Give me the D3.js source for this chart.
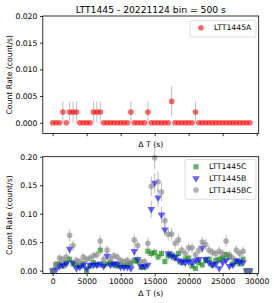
<!DOCTYPE html>
<html>
<head>
<meta charset="utf-8">
<script src="https://cdn.jsdelivr.net/npm/d3@7"></script>
<style>
body { margin: 0; background: #fff; }
svg { display: block; }
text { font-family: "DejaVu Sans", sans-serif; }
</style>
</head>
<body>
<svg width="274" height="303"></svg>
<script>
// 500 s bins, rates in count/s
var BIN = 500;
var times = [0, 500, 1000, 1500, 2000, 2500, 3000, 3500, 4000, 4500,
  5000, 5500, 6000, 6500, 7000, 7500, 8000, 8500, 9000, 9500,
  10000, 10500, 11000, 11500, 12000, 12500, 13000, 13500, 14000, 14500,
  15000, 15500, 16000, 16500, 17000, 17500, 18000, 18500, 19000, 19500,
  20000, 20500, 21000, 21500, 22000, 22500, 23000, 23500, 24000, 24500,
  25000, 25500, 26000, 26500, 27000, 27500, 28000, 28500, 29000];

var rateA = [0, 0, 0, 0.002, 0, 0.002, 0.002, 0.002, 0, 0,
  0, 0, 0.002, 0.002, 0.002, 0, 0, 0, 0, 0,
  0, 0, 0, 0.002, 0, 0, 0, 0, 0.002, 0,
  0, 0, 0, 0, 0, 0.004, 0, 0, 0, 0,
  0, 0, 0.002, 0, 0, 0, 0, 0, 0, 0,
  0, 0, 0, 0, 0, 0, 0, 0, 0];

var rateC = [0, 0.010, 0.012, 0.008, 0.014, 0.020, 0.012, 0.010, 0.008, 0.012,
  0, 0.008, 0.014, 0.010, 0.036, 0.010, 0.012, 0.014, 0.010, 0.008,
  0.010, 0.008, 0.010, 0.012, 0.018, 0.016, 0.006, 0.006, 0.034, 0.030,
  0.032, 0.024, 0.030, 0.016, 0.026, 0.028, 0.022, 0.030, 0.014, 0.020,
  0.022, 0.008, 0.004, 0.014, 0.010, 0.018, 0.020, 0.010, 0.018, 0.020,
  0.022, 0.028, 0.024, 0.012, 0.016, 0.012, 0.020, 0, 0];

var rateB = [0, 0.002, 0.008, 0.010, 0.012, 0.038, 0.014, 0.004, 0.006, 0.010,
  0.004, 0.010, 0.010, 0.010, 0.012, 0.008, 0.026, 0.010, 0.012, 0.012,
  0.006, 0.006, 0.006, 0.004, 0.034, 0.020, 0.008, 0.008, 0.010, 0.108,
  0.154, 0.128, 0.098, 0.072, 0.030, 0.026, 0.024, 0.018, 0.016, 0.014,
  0.016, 0.014, 0.018, 0.020, 0.040, 0.020, 0.014, 0.010, 0.012, 0.004,
  0.014, 0.018, 0.008, 0.010, 0.018, 0.016, 0.014, 0, 0];

var rateBC = [0, 0.012, 0.022, 0.020, 0.024, 0.062, 0.044, 0.018, 0.016, 0.024,
  0.020, 0.022, 0.026, 0.028, 0.052, 0.020, 0.036, 0.022, 0.026, 0.024,
  0.018, 0.016, 0.018, 0.014, 0.054, 0.044, 0.016, 0.016, 0.048, 0.148,
  0.198, 0.156, 0.138, 0.088, 0.064, 0.064, 0.048, 0.054, 0.036, 0.030,
  0.040, 0.040, 0.028, 0.036, 0.050, 0.046, 0.036, 0.032, 0.030, 0.034,
  0.030, 0.052, 0.028, 0.022, 0.036, 0.030, 0.034, 0, 0];

var xTicks = [0, 5000, 10000, 15000, 20000, 25000, 30000];
var yTicksTop = [0, 0.005, 0.010, 0.015, 0.020];
var yTicksBottom = [0, 0.05, 0.10, 0.15, 0.20];

var svg = d3.select("svg");
var FS = 7.7;
var left = 42.8, right = 258.7;

var x = d3.scaleLinear().domain([-1450, 30300]).range([left, right]);

function poisson(r) { return Math.sqrt(r * BIN) / BIN; }

function makeAxes(top, bottom, ydom, yticks, fmt, showXLabels, xlabelY) {
  var y = d3.scaleLinear().domain(ydom).range([bottom, top]);
  var g = svg.append("g");

  var gx = g.append("g").attr("transform", "translate(0," + bottom + ")")
    .call(d3.axisBottom(x).tickValues(xTicks).tickSize(2.8).tickPadding(2.6)
      .tickFormat(showXLabels ? d3.format("d") : function() { return ""; }));
  var gy = g.append("g").attr("transform", "translate(" + left + ",0)")
    .call(d3.axisLeft(y).tickValues(yticks).tickSize(2.8).tickPadding(2.6).tickFormat(d3.format(fmt)));
  [gx, gy].forEach(function(a) {
    a.select(".domain").remove();
    a.selectAll("line").attr("stroke", "#000").attr("stroke-width", 0.8);
    a.selectAll("text").attr("font-size", FS).attr("fill", "#000")
      .style("font-family", "'DejaVu Sans', sans-serif");
  });

  g.append("text").attr("x", (left + right) / 2).attr("y", xlabelY)
    .attr("text-anchor", "middle").attr("font-size", FS).text("\u0394 T (s)");
  g.append("text").attr("transform", "translate(9.5," + (top + bottom) / 2 + ") rotate(-90)")
    .attr("text-anchor", "middle").attr("dominant-baseline", "middle")
    .attr("font-size", FS).text("Count Rate (count/s)");

  var plot = g.append("g");
  g.append("rect").attr("x", left).attr("y", top).attr("width", right - left).attr("height", bottom - top)
    .attr("fill", "none").attr("stroke", "#000").attr("stroke-width", 0.8);
  return { y: y, plot: plot };
}

var symCircle = d3.symbol().type(d3.symbolCircle).size(25);
var symSquare = d3.symbol().type(d3.symbolSquare).size(27);
var symTri = d3.symbol().type(d3.symbolTriangle).size(25);

function drawSeries(ax, rates, color, sym, rot) {
  var pts = rates.map(function(r, i) { return { t: times[i], r: r, e: poisson(r) }; });
  ax.plot.append("g").selectAll("line").data(pts.filter(function(d) { return d.e > 0; }))
    .enter().append("line")
    .attr("x1", function(d) { return x(d.t); }).attr("x2", function(d) { return x(d.t); })
    .attr("y1", function(d) { return ax.y(d.r - d.e); }).attr("y2", function(d) { return ax.y(d.r + d.e); })
    .attr("stroke", "#888").attr("stroke-opacity", 0.55).attr("stroke-width", 1);
  ax.plot.append("g").selectAll("path").data(pts).enter().append("path")
    .attr("d", sym)
    .attr("transform", function(d) { return "translate(" + x(d.t) + "," + ax.y(d.r) + ")" + (rot ? " rotate(180)" : ""); })
    .attr("fill", color).attr("fill-opacity", 0.6);
}

function legend(lx, ly, w, items) {
  var h = 5 + items.length * 11.6;
  var g = svg.append("g");
  g.append("rect").attr("x", lx).attr("y", ly).attr("width", w).attr("height", h).attr("rx", 2)
    .attr("fill", "#fff").attr("fill-opacity", 0.8).attr("stroke", "#d6d6d6").attr("stroke-width", 0.8);
  items.forEach(function(it, i) {
    var cy = ly + 7.3 + i * 11.6;
    g.append("path").attr("d", it.sym)
      .attr("transform", "translate(" + (lx + 11) + "," + cy + ")" + (it.rot ? " rotate(180)" : ""))
      .attr("fill", it.color).attr("fill-opacity", 0.6);
    g.append("text").attr("x", lx + 24).attr("y", cy).attr("dominant-baseline", "central")
      .attr("font-size", FS).text(it.name);
  });
}

svg.append("text").attr("x", (left + right) / 2).attr("y", 12.6).attr("text-anchor", "middle")
  .attr("font-size", 9.2).text("LTT1445 - 20221124 bin = 500 s");

var axTop = makeAxes(16, 133.4, [-0.002, 0.020], yTicksTop, ".3f", false, 146.5);
drawSeries(axTop, rateA, "red", symCircle, false);
legend(190, 20.5, 66, [{ name: "LTT1445A", color: "red", sym: symCircle }]);

var axBot = makeAxes(156.7, 273.5, [-0.005, 0.20], yTicksBottom, ".2f", true, 295.5);
drawSeries(axBot, rateC, "green", symSquare, false);
drawSeries(axBot, rateB, "blue", symTri, true);
drawSeries(axBot, rateBC, "gray", symCircle, false);
legend(185, 159.5, 71, [
  { name: "LTT1445C", color: "green", sym: symSquare },
  { name: "LTT1445B", color: "blue", sym: symTri, rot: true },
  { name: "LTT1445BC", color: "gray", sym: symCircle }
]);
</script>
</body>
</html>
